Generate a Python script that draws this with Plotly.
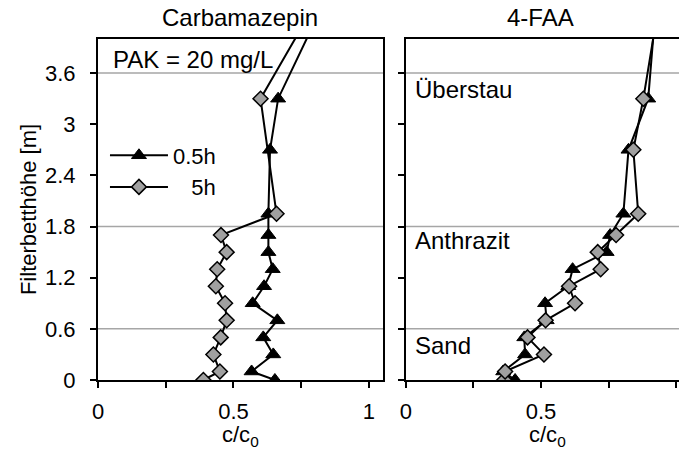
import plotly.graph_objects as go

# Filter bed depth profiles of c/c0 at two contact times (PAK = 20 mg/L)
heights_05h = [0, 0.1, 0.3, 0.5, 0.7, 0.9, 1.1, 1.3, 1.5, 1.7, 1.95, 2.7, 3.3, 4.5]
heights_carb_5h = [0, 0.1, 0.3, 0.5, 0.7, 0.9, 1.1, 1.3, 1.5, 1.7, 1.95, 3.3, 4.5]
heights_faa_5h = [0, 0.1, 0.3, 0.5, 0.7, 0.9, 1.1, 1.3, 1.5, 1.7, 1.95, 2.7, 3.3, 4.5]

carb_05h = [0.653, 0.567, 0.647, 0.61, 0.662, 0.571, 0.613, 0.645, 0.629, 0.629, 0.629, 0.635, 0.665, 0.845]
carb_5h = [0.389, 0.45, 0.426, 0.453, 0.475, 0.469, 0.435, 0.44, 0.475, 0.454, 0.659, 0.60, 0.818]

faa_05h = [0.404, 0.36, 0.441, 0.438, 0.521, 0.515, 0.601, 0.617, 0.743, 0.756, 0.805, 0.824, 0.897, 0.928]
faa_5h = [0.364, 0.367, 0.511, 0.45, 0.517, 0.626, 0.604, 0.721, 0.71, 0.778, 0.86, 0.842, 0.879, 0.941]

panel_titles = ["Carbamazepin", "4-FAA"]
series_names = ["0.5h", "\u2007\u20085h"]
layer_bounds = [0.6, 1.8, 3.6]
layer_names = ["Sand", "Anthrazit", "Überstau"]
layer_label_y = [0.41, 1.64, 3.41]
y_ticks = [0, 0.6, 1.2, 1.8, 2.4, 3, 3.6]
x_ticks = [0, 0.25, 0.5, 0.75, 1]
x_ticktext = ["0", "", "0.5", "", "1"]

FONT = "Liberation Sans, Arial, sans-serif"
GRID = "#a6a6a6"
DIAMOND_FILL = "#a0a0a0"

fig = go.Figure()


def add_panel(xs05, ys05, xs5, ys5, xa, ya, legend):
    fig.add_trace(go.Scatter(
        x=xs05, y=ys05, xaxis=xa, yaxis=ya, mode="lines+markers",
        name=series_names[0], showlegend=legend, legendrank=1,
        line=dict(color="black", width=2),
        marker=dict(symbol="triangle-up", size=13, color="black",
                    line=dict(color="black", width=1)),
    ))
    fig.add_trace(go.Scatter(
        x=xs5, y=ys5, xaxis=xa, yaxis=ya, mode="lines+markers",
        name=series_names[1], showlegend=legend, legendrank=2,
        line=dict(color="black", width=2),
        marker=dict(symbol="diamond", size=11.5, color=DIAMOND_FILL,
                    line=dict(color="black", width=1.5)),
    ))


add_panel(carb_05h, heights_05h, carb_5h, heights_carb_5h, "x", "y", True)
add_panel(faa_05h, heights_05h, faa_5h, heights_faa_5h, "x2", "y2", False)

axis_common = dict(
    showgrid=False, zeroline=False, showline=True, linecolor="black",
    linewidth=2, ticks="outside", ticklen=6, tickwidth=1.5, tickcolor="black",
    tickfont=dict(family=FONT, size=22, color="black"),
)

fig.update_layout(
    width=679, height=450,
    margin=dict(l=98, r=0, t=39, b=70),
    paper_bgcolor="white", plot_bgcolor="white",
    font=dict(family=FONT, size=22, color="black"),
    xaxis=dict(domain=[0, 0.4905], range=[0, 1.052], tickvals=x_ticks,
               ticktext=x_ticktext, mirror=True, anchor="y",
               ticklabelstandoff=5, **axis_common),
    xaxis2=dict(domain=[0.5301, 1], range=[0, 1.011], tickvals=x_ticks,
                ticktext=x_ticktext, mirror=True, anchor="y2",
                ticklabelstandoff=5, **axis_common),
    yaxis=dict(domain=[0, 1], range=[0, 4.0], tickvals=y_ticks,
               mirror=True, anchor="x", ticklabelstandoff=10,
               title=dict(text="Filterbetthöhe [m]", standoff=2,
                          font=dict(family=FONT, size=22, color="black")),
               **axis_common),
    yaxis2=dict(domain=[0, 1], range=[0, 4.0], tickvals=y_ticks,
                showticklabels=False, mirror=False, anchor="x2", **axis_common),
    legend=dict(x=0.012, y=0.72, xanchor="left", yanchor="top",
                bgcolor="rgba(0,0,0,0)", borderwidth=0,
                font=dict(family=FONT, size=22, color="black"),
                itemwidth=58, tracegroupgap=0),
    showlegend=True,
)

# Layer boundaries as grey rules inside each panel
for xref, yref in (("x domain", "y"), ("x2 domain", "y2")):
    for b in layer_bounds:
        fig.add_shape(type="line", xref=xref, yref=yref, x0=0, x1=1, y0=b, y1=b,
                      line=dict(color=GRID, width=1.5), layer="below")

# Panel titles and x axis titles
for i, t in enumerate(panel_titles):
    xr = "x" if i == 0 else "x2"
    fig.add_annotation(text=t, xref=xr, yref="paper", x=0.524 if i == 0 else 0.497,
                       y=1, yanchor="middle", yshift=22, showarrow=False,
                       font=dict(family=FONT, size=24, color="black"))
    fig.add_annotation(text="c/c<sub>0</sub>", xref=xr, yref="paper", x=0.525,
                       y=0, yanchor="middle", yshift=-56, showarrow=False,
                       font=dict(family=FONT, size=22, color="black"))

fig.add_annotation(text="PAK = 20 mg/L", xref="x domain", yref="paper", x=0,
                   xshift=13, y=1, yshift=-20, xanchor="left", yanchor="middle",
                   showarrow=False, font=dict(family=FONT, size=24, color="black"))

for name, ly in zip(layer_names, layer_label_y):
    fig.add_annotation(text=name, xref="x2 domain", yref="y2", x=0, xshift=7,
                       y=ly, xanchor="left", yanchor="middle", showarrow=False,
                       font=dict(family=FONT, size=24, color="black"))

fig.write_html("out.html")
